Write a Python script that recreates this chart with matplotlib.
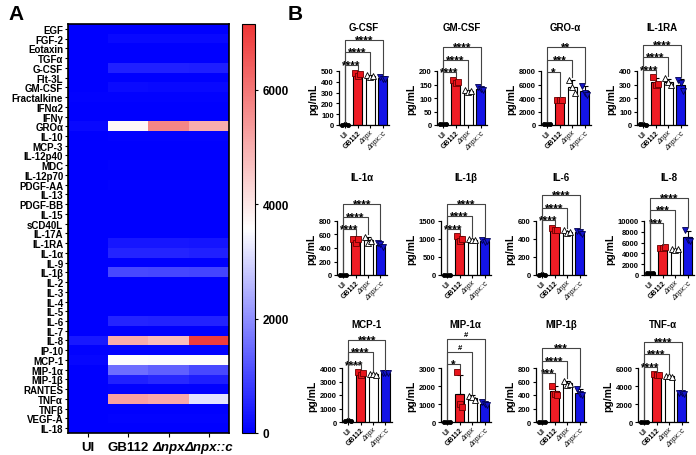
import numpy as np
import matplotlib
matplotlib.use("Agg")
import matplotlib.pyplot as plt
from matplotlib.colors import LinearSegmentedColormap

plt.rcParams['font.family'] = ['Liberation Sans', 'DejaVu Sans']

# ---------------- Panel A data ----------------
heat_rows = ['EGF', 'FGF-2', 'Eotaxin', 'TGFα', 'G-CSF', 'Flt-3L', 'GM-CSF',
             'Fractalkine', 'IFNα2', 'IFNγ', 'GROα', 'IL-10',
             'MCP-3', 'IL-12p40', 'MDC', 'IL-12p70', 'PDGF-AA', 'IL-13', 'PDGF-BB', 'IL-15',
             'sCD40L', 'IL-17A', 'IL-1RA', 'IL-1α', 'IL-9', 'IL-1β', 'IL-2',
             'IL-3', 'IL-4', 'IL-5', 'IL-6', 'IL-7', 'IL-8', 'IP-10', 'MCP-1', 'MIP-1α',
             'MIP-1β', 'RANTES', 'TNFα', 'TNFβ', 'VEGF-A', 'IL-18']
heat_cols = ['UI', 'GB112', 'Δnpx', 'Δnpx::c']
heat_UI = [10, 20, 5, 5, 5, 10, 3, 30, 10, 5, 130, 5, 10, 5, 20, 5, 20, 5, 10, 5, 10, 5,
           5, 5, 5, 5, 5, 5, 5, 5, 5, 5, 350, 30, 100, 20, 5, 20, 20, 5, 20, 10]
heat_GB112 = [15, 120, 10, 5, 470, 20, 160, 40, 10, 5, 3700, 30, 20, 10, 30, 5, 40, 5, 20, 10, 10, 5,
              320, 510, 10, 1010, 5, 5, 5, 5, 505, 5, 5050, 30, 3600, 1550, 450, 40, 5250, 5, 30, 20]
heat_npx = [15, 120, 10, 5, 450, 20, 125, 40, 10, 5, 5700, 30, 20, 10, 30, 5, 40, 5, 20, 10, 10, 5,
            320, 515, 10, 980, 5, 5, 5, 5, 480, 5, 4750, 30, 3520, 1350, 570, 40, 5100, 5, 30, 20]
heat_npxc = [15, 120, 10, 5, 430, 20, 135, 40, 10, 5, 5000, 30, 20, 10, 30, 5, 40, 5, 20, 10, 10, 5,
             297, 450, 10, 953, 5, 5, 5, 5, 475, 5, 7030, 30, 3620, 1017, 437, 40, 3200, 5, 30, 20]
cbar_ticks = [0, 2000, 4000, 6000]
cbar_max = 7150

# ---------------- Panel B data ----------------
groups = ['UI', 'GB112', 'Δnpx', 'Δnpx::c']
b_titles = ['G-CSF', 'GM-CSF', 'GRO-α', 'IL-1RA',
            'IL-1α', 'IL-1β', 'IL-6', 'IL-8',
            'MCP-1', 'MIP-1α', 'MIP-1β', 'TNF-α']
b_ymax = [500, 200, 8000, 400, 800, 1500, 600, 10000, 4000, 3000, 800, 6000]
b_ystep = [100, 50, 2000, 100, 200, 500, 200, 2000, 1000, 1000, 200, 2000]
ui_pts = [[4, 5, 3], [2, 3, 2], [120, 150, 100], [4, 5, 3],
          [5, 4, 6], [5, 6, 4], [5, 6, 4], [300, 420, 350],
          [100, 130, 80], [20, 25, 15], [5, 6, 4], [20, 25, 15]]
gb112_pts = [[485, 450, 475], [168, 155, 158], [3750, 3700, 3650], [355, 300, 305],
             [540, 470, 530], [1080, 950, 1000], [525, 500, 495], [5050, 5000, 5100],
             [3700, 3500, 3600], [2800, 1000, 850], [540, 420, 400], [5300, 5200, 5250]]
npx_pts = [[460, 445, 450], [128, 122, 125], [6700, 5600, 4800], [345, 320, 300],
           [570, 480, 500], [1010, 960, 975], [495, 470, 480], [4750, 4700, 4800],
           [3550, 3520, 3500], [1450, 1400, 1200], [610, 550, 560], [5150, 5100, 5050]]
npxc_pts = [[440, 430, 425], [140, 132, 128], [5800, 4800, 4400], [330, 310, 250],
            [480, 460, 410], [980, 930, 950], [490, 475, 460], [8300, 6500, 6300],
            [3640, 3620, 3600], [1100, 1000, 950], [490, 420, 400], [3250, 3200, 3150]]
b_sig = [('****', '****', '****'), ('****', '****', '****'), ('*', '***', '**'), ('****', '****', '****'),
         ('****', '****', '****'), ('****', '****', '****'), ('****', '****', '****'), ('***', '***', '****'),
         ('****', '****', '****'), ('*', '#', '#'), ('***', '****', '***'), ('****', '****', '****')]

# ---------------- Figure ----------------
W, H = 696, 456
fig = plt.figure(figsize=(W / 100, H / 100), dpi=100)


def box(l, t, w, h):
    return [l / W, 1 - (t + h) / H, w / W, h / H]


# Panel A heatmap
cmap = LinearSegmentedColormap.from_list('bwr2', [(0, '#0000FF'), (0.5, '#FFFFFF'), (1, '#EE3636')])
mat = np.array([heat_UI, heat_GB112, heat_npx, heat_npxc]).T
axh = fig.add_axes(box(68, 25, 161, 409))
im = axh.imshow(mat, cmap=cmap, vmin=0, vmax=cbar_max, aspect='auto', interpolation='nearest')
axh.set_yticks(range(len(heat_rows)))
axh.set_yticklabels(heat_rows, fontsize=7, fontweight='bold')
axh.set_xticks(range(len(heat_cols)))
axh.set_xticklabels(heat_cols, fontsize=9.5, fontweight='bold')
for i, t in enumerate(axh.get_xticklabels()):
    if i >= 2:
        t.set_fontstyle('italic')
axh.tick_params(axis='y', length=2.5, width=0.8, pad=1)
axh.tick_params(axis='x', length=3, width=0.8, pad=3)
for s in axh.spines.values():
    s.set_linewidth(1.2)

cax = fig.add_axes(box(242, 25, 13, 409))
cb = fig.colorbar(im, cax=cax, ticks=cbar_ticks)
cb.ax.tick_params(length=2, width=0.8, labelsize=8.5)
for t in cb.ax.get_yticklabels():
    t.set_fontweight('bold')
cb.outline.set_linewidth(0.8)

fig.text(8 / W, 1 - 14 / H, 'A', fontsize=15, fontweight='bold', va='center', ha='left')
fig.text(288 / W, 1 - 14 / H, 'B', fontsize=15, fontweight='bold', va='center', ha='left')

# Panel B layout
ui_x_px = [[345, 443, 547, 643], [343, 447, 542, 650], [348, 447, 542, 644]]
row_bottom = [126, 276, 423]
ax_h = 54
unit = 12.5
bar_colors = ['#000000', '#EE1C25', '#FFFFFF', '#1414E6']
markers = ['o', 's', '^', 'v']
mfc = ['#000000', '#E8141B', '#FFFFFF', '#1515C8']
mec = ['#000000', '#6A0000', '#000000', '#000050']
msz = [3.0, 3.8, 3.8, 3.8]
offsets = [-0.22, 0.0, 0.22]

for idx in range(12):
    r, c = divmod(idx, 4)
    left = ui_x_px[r][c] - 0.5 * unit
    ax = fig.add_axes(box(left, row_bottom[r] - ax_h, 4 * unit, ax_h))
    ymax = b_ymax[idx]
    data = [ui_pts[idx], gb112_pts[idx], npx_pts[idx], npxc_pts[idx]]
    means = [np.mean(d) for d in data]
    sds = [np.std(d, ddof=1) for d in data]
    xs = np.arange(4)
    ax.bar(xs, means, width=0.72, color=bar_colors, edgecolor='black', linewidth=0.8, zorder=2)
    for g in range(4):
        ax.errorbar(g, means[g], yerr=[[0], [sds[g]]], fmt='none', ecolor='black',
                    elinewidth=0.8, capsize=2.2, capthick=0.8, zorder=3)
        ax.plot(g + np.array(offsets), data[g], linestyle='none', marker=markers[g],
                markersize=msz[g], markerfacecolor=mfc[g], markeredgecolor=mec[g],
                markeredgewidth=0.6, zorder=4, clip_on=False)
    ax.set_xlim(-0.5, 3.5)
    ax.set_ylim(0, ymax)
    ax.set_yticks(np.arange(0, ymax + 1, b_ystep[idx]))
    ax.tick_params(axis='y', length=2.5, width=0.8, labelsize=5.5, pad=1)
    ax.tick_params(axis='x', length=2, width=0.8, pad=1)
    for t in ax.get_yticklabels():
        t.set_fontweight('bold')
    ax.set_xticks(xs)
    ax.set_xticklabels(groups, rotation=45, ha='right', rotation_mode='anchor', fontsize=5)
    for i, t in enumerate(ax.get_xticklabels()):
        if i >= 2:
            t.set_fontstyle('italic')
        else:
            t.set_fontweight('bold')
    for s in ['top', 'right']:
        ax.spines[s].set_visible(False)
    for s in ['left', 'bottom']:
        ax.spines[s].set_linewidth(0.9)
    ax.set_ylabel('pg/mL', fontsize=7.5, fontweight='bold', labelpad=2)

    # significance brackets
    tops = [max(max(d), m + s) for d, m, s in zip(data, means, sds)]
    gap = 0.05 * ymax
    base = max(tops) + 0.14 * ymax
    step = 0.23 * ymax
    for k, s in enumerate(b_sig[idx]):
        x2 = k + 1
        h = base + k * step
        ax.plot([0, 0, x2, x2], [tops[0] + gap, h, h, tops[x2] + gap], color='#444444',
                lw=0.8, clip_on=False, zorder=5)
        if '*' in s:
            ax.annotate(s, (x2 / 2, h), xytext=(0, -2.3), textcoords='offset points',
                        ha='center', va='baseline', fontsize=8.5, fontweight='bold',
                        annotation_clip=False)
        else:
            ax.annotate(s, (x2 / 2, h), xytext=(0, 0.8), textcoords='offset points',
                        ha='center', va='bottom', fontsize=5.5, fontweight='bold',
                        annotation_clip=False)
    ax.text(0.5, 1.82, b_titles[idx], transform=ax.transAxes, ha='center', va='center',
            fontsize=7, fontweight='bold')

fig.savefig('out.png', dpi=100)
